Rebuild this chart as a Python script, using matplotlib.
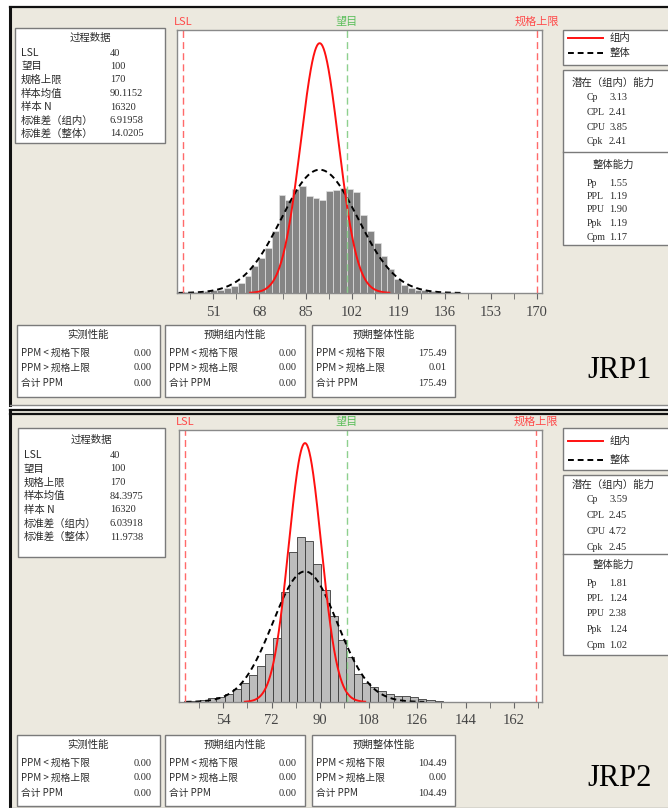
import numpy as np
import matplotlib
matplotlib.use("Agg")
import matplotlib.pyplot as plt
import matplotlib.transforms as mtransforms
from matplotlib.patches import Rectangle

plt.rcParams['font.family'] = ['Noto Sans CJK SC', 'DejaVu Sans']

W, H = 668, 808

# Spec limits (same for both parts)
LSL, TARGET, USL = 40, 100, 170

# ---- JRP1 ----
jrp1_mean = 90.1152
jrp1_sd_within = 6.91958
jrp1_sd_overall = 14.0205
jrp1_n = 16320
jrp1_bin_start = 40.0
jrp1_bin_width = 2.5
jrp1_density = [0.0002, 0.0002, 0.0003, 0.0005, 0.0006, 0.0008, 0.0012, 0.0016,
                0.0023, 0.0039, 0.0062, 0.0081, 0.0104, 0.0143, 0.0226, 0.0215,
                0.0240, 0.0247, 0.0224, 0.0219, 0.0215, 0.0235, 0.0238, 0.0242,
                0.0240, 0.0233, 0.0180, 0.0143, 0.0115, 0.0085, 0.0055, 0.0032,
                0.0018, 0.0012, 0.0008, 0.0006, 0.0005, 0.0003, 0.0002, 0.0002,
                0.0001, 0.0000]
jrp1_ticks = [51, 68, 85, 102, 119, 136, 153, 170]
jrp1_minor = [42.5, 59.5, 76.5, 93.5, 110.5, 127.5, 144.5, 161.5]
jrp1_xlim = (37.7, 171.8)
jrp1_ymax = 0.0607
jrp1_info = ["40", "100", "170", "90.1152", "16320", "6.91958", "14.0205"]
jrp1_within_cap = ["3.13", "2.41", "3.85", "2.41"]
jrp1_overall_cap = ["1.55", "1.19", "1.90", "1.19", "1.17"]
jrp1_ppm = [["0.00", "0.00", "0.00"],
            ["0.00", "0.00", "0.00"],
            ["175.49", "0.01", "175.49"]]

# ---- JRP2 ----
jrp2_mean = 84.3975
jrp2_sd_within = 6.03918
jrp2_sd_overall = 11.9738
jrp2_n = 16320
jrp2_bin_start = 39.5
jrp2_bin_width = 3.0
jrp2_density = [0.0002, 0.0003, 0.0005, 0.0009, 0.0014, 0.0020, 0.0033, 0.0048,
                0.0069, 0.0092, 0.0122, 0.0163, 0.0281, 0.0383, 0.0421, 0.0411,
                0.0352, 0.0286, 0.0219, 0.0158, 0.0115, 0.0071, 0.0048, 0.0038,
                0.0028, 0.0020, 0.0016, 0.0015, 0.0012, 0.0008, 0.0004, 0.0003]
jrp2_ticks = [54, 72, 90, 108, 126, 144, 162]
jrp2_minor = [45, 63, 81, 99, 117, 135, 153, 171]
jrp2_xlim = (37.6, 172.4)
jrp2_ymax = 0.0694
jrp2_info = ["40", "100", "170", "84.3975", "16320", "6.03918", "11.9738"]
jrp2_within_cap = ["3.59", "2.45", "4.72", "2.45"]
jrp2_overall_cap = ["1.81", "1.24", "2.38", "1.24", "1.02"]
jrp2_ppm = [["0.00", "0.00", "0.00"],
            ["0.00", "0.00", "0.00"],
            ["104.49", "0.00", "104.49"]]

info_labels = ["LSL", "望目", "规格上限", "样本均值", "样本 N", "标准差（组内）", "标准差（整体）"]
within_labels = ["Cp", "CPL", "CPU", "Cpk"]
overall_labels = ["Pp", "PPL", "PPU", "Ppk", "Cpm"]
ppm_titles = ["实测性能", "预期组内性能", "预期整体性能"]
ppm_rows = ["PPM < 规格下限", "PPM > 规格上限", "合计 PPM"]

BG = "#ECE9DF"
TXT = "#2b2b2b"
BOX_EDGE = "#7a7a7a"
SERIF = ["Liberation Serif", "DejaVu Serif"]

fig = plt.figure(figsize=(W / 100, H / 100), dpi=100)
bg = fig.add_axes([0, 0, 1, 1], zorder=0)
bg.set_xlim(0, W)
bg.set_ylim(H, 0)
bg.axis("off")


def px_axes(x0, y0, x1, y1):
    return fig.add_axes([x0 / W, 1 - y1 / H, (x1 - x0) / W, (y1 - y0) / H], zorder=2)


def box(x0, y0, x1, y1):
    bg.add_patch(Rectangle((x0, y0), x1 - x0, y1 - y0, facecolor="white",
                           edgecolor=BOX_EDGE, linewidth=1.0))


def normal_pdf(x, mu, sd):
    return np.exp(-0.5 * ((x - mu) / sd) ** 2) / (sd * np.sqrt(2 * np.pi))


def draw_panel(L, mean, sd_w, sd_o, bin_start, bin_w, density, ticks, minor,
               xlim, ymax, info, wcap, ocap, ppm, tag, bar_style):
    # panel background
    top, bot = L["panel"]
    bg.add_patch(Rectangle((10, top), W - 10, bot - top, facecolor=BG, edgecolor="none"))
    bg.plot([10, 10], [top, bot], color="#111111", lw=2.2)
    for yy in L["top_lines"]:
        bg.plot([10, W], [yy, yy], color="#111111", lw=1.6)
    bg.plot([10, W], [bot, bot], color="#8a8a8a", lw=1.0)

    # histogram + fitted curves
    x0, y0, x1, y1 = L["plot"]
    ax = px_axes(x0, y0, x1, y1)
    edges = bin_start + bin_w * np.arange(len(density))
    ax.bar(edges, density, width=bin_w, align="edge", **bar_style)
    xs = np.linspace(mean - 3.7 * sd_o, mean + 3.7 * sd_o, 400)
    ax.plot(xs, normal_pdf(xs, mean, sd_o), color="black", lw=1.4, ls=(0, (3, 2)))
    xs = np.linspace(mean - 3.7 * sd_w, mean + 3.7 * sd_w, 400)
    ax.plot(xs, normal_pdf(xs, mean, sd_w), color="#FF1010", lw=1.4)
    ax.axvline(LSL, color="#FF6A6A", lw=1.0, ls=(0, (5, 3)))
    ax.axvline(USL, color="#FF6A6A", lw=1.0, ls=(0, (5, 3)))
    ax.axvline(TARGET, color="#8ED08E", lw=1.0, ls=(0, (5, 3)))
    ax.set_xlim(*xlim)
    ax.set_ylim(0, ymax)
    ax.set_yticks([])
    ax.set_xticks(ticks)
    ax.set_xticks(minor, minor=True)
    ax.tick_params(axis="x", which="both", direction="out", length=4,
                   color="#666666", labelsize=10.5, labelcolor="#454545", pad=5)
    for lab in ax.get_xticklabels():
        lab.set_family(SERIF)
    for s in ax.spines.values():
        s.set_color("#8a8a8a")
        s.set_linewidth(1.0)
    trans = mtransforms.blended_transform_factory(ax.transData, ax.transAxes)
    for xv, name, col in [(LSL, "LSL", "#FF4A4A"), (TARGET, "望目", "#5CBF5C"),
                          (USL, "规格上限", "#FF4A4A")]:
        ax.text(xv, 1.012, name, transform=trans, ha="center", va="bottom",
                color=col, fontsize=8, clip_on=False)

    # process data box
    bx0, by0, bx1, by1 = L["info_box"]
    box(bx0, by0, bx1, by1)
    bg.text((bx0 + bx1) / 2, L["info_title"], "过程数据", ha="center", va="center",
            fontsize=7.5, color=TXT)
    for i, (lab, val) in enumerate(zip(info_labels, info)):
        yy = L["info_row0"] + i * L["info_step"]
        bg.text(bx0 + 6, yy, lab, ha="left", va="center", fontsize=7.5, color=TXT)
        bg.text(110, yy, val, ha="left", va="center", fontsize=7.5, color=TXT,
                family=SERIF)

    # legend box
    lx0, ly0, lx1, ly1 = L["legend_box"]
    box(lx0, ly0, lx1, ly1)
    ya, yb = L["legend_rows"]
    bg.plot([568, 603], [ya, ya], color="#FF1010", lw=1.4)
    bg.plot([568, 603], [yb, yb], color="black", lw=1.4, ls=(0, (3, 2)))
    bg.text(610, ya, "组内", va="center", fontsize=7.5, color=TXT)
    bg.text(610, yb, "整体", va="center", fontsize=7.5, color=TXT)

    # capability box
    cx0, cy0, cx1, cy1 = L["cap_box"]
    box(cx0, cy0, cx1, cy1)
    bg.plot([cx0, cx1], [L["cap_div"], L["cap_div"]], color=BOX_EDGE, lw=1.0)
    bg.text(613, L["cap_t1"], "潜在（组内）能力", ha="center", va="center",
            fontsize=7.5, color=TXT)
    for i, (lab, val) in enumerate(zip(within_labels, wcap)):
        yy = L["cap_r1"] + i * L["cap_s1"]
        bg.text(587, yy, lab, va="center", fontsize=7, color=TXT, family=SERIF)
        bg.text(609, yy, val, va="center", fontsize=7.5, color=TXT, family=SERIF)
    bg.text(613, L["cap_t2"], "整体能力", ha="center", va="center",
            fontsize=7.5, color=TXT)
    for i, (lab, val) in enumerate(zip(overall_labels, ocap)):
        yy = L["cap_r2"] + i * L["cap_s2"]
        bg.text(587, yy, lab, va="center", fontsize=7, color=TXT, family=SERIF)
        bg.text(609, yy, val, va="center", fontsize=7.5, color=TXT, family=SERIF)

    # PPM boxes
    py0, py1 = L["ppm_y"]
    for (px0, px1), title, vals in zip(L["ppm_x"], ppm_titles, ppm):
        box(px0, py0, px1, py1)
        bg.text((px0 + px1) / 2, L["ppm_title"], title, ha="center", va="center",
                fontsize=7.5, color=TXT)
        for j, (lab, val) in enumerate(zip(ppm_rows, vals)):
            yy = L["ppm_rows"][j]
            bg.text(px0 + 4, yy, lab, va="center", fontsize=7, color=TXT)
            bg.text(px1 - 8, yy, val, ha="right", va="center", fontsize=7.5,
                    color=TXT, family=SERIF)

    bg.text(620, L["tag_y"], tag, ha="center", va="center", fontsize=22,
            color="black", family=SERIF)


layout1 = dict(panel=(7, 405), top_lines=[7], plot=(177, 30, 542, 293),
               info_box=(15, 28, 165, 143), info_title=38, info_row0=53, info_step=13.5,
               legend_box=(563, 30, 672, 65), legend_rows=(38, 53),
               cap_box=(563, 70, 672, 245), cap_div=152, cap_t1=83, cap_r1=98,
               cap_s1=14.5, cap_t2=165, cap_r2=183, cap_s2=13.5,
               ppm_y=(325, 397), ppm_x=[(17, 160), (165, 305), (312, 455)],
               ppm_title=335, ppm_rows=(353, 368, 383), tag_y=371)

layout2 = dict(panel=(410, H), top_lines=[410, 413.5], plot=(179, 430, 542, 702),
               info_box=(18, 428, 165, 557), info_title=440, info_row0=455, info_step=13.7,
               legend_box=(563, 428, 672, 470), legend_rows=(441, 460),
               cap_box=(563, 475, 672, 655), cap_div=554, cap_t1=485, cap_r1=500,
               cap_s1=15.7, cap_t2=565, cap_r2=583, cap_s2=15.5,
               ppm_y=(735, 806), ppm_x=[(17, 160), (165, 305), (312, 455)],
               ppm_title=745, ppm_rows=(763, 778, 793), tag_y=779)

draw_panel(layout1, jrp1_mean, jrp1_sd_within, jrp1_sd_overall, jrp1_bin_start,
           jrp1_bin_width, jrp1_density, jrp1_ticks, jrp1_minor, jrp1_xlim, jrp1_ymax,
           jrp1_info, jrp1_within_cap, jrp1_overall_cap, jrp1_ppm, "JRP1",
           dict(facecolor="#858585", edgecolor="#e0e0e0", linewidth=0.5))
draw_panel(layout2, jrp2_mean, jrp2_sd_within, jrp2_sd_overall, jrp2_bin_start,
           jrp2_bin_width, jrp2_density, jrp2_ticks, jrp2_minor, jrp2_xlim, jrp2_ymax,
           jrp2_info, jrp2_within_cap, jrp2_overall_cap, jrp2_ppm, "JRP2",
           dict(facecolor="#bdbdbd", edgecolor="#3a3a3a", linewidth=0.6))

fig.savefig("out.png", dpi=100, facecolor="white")
